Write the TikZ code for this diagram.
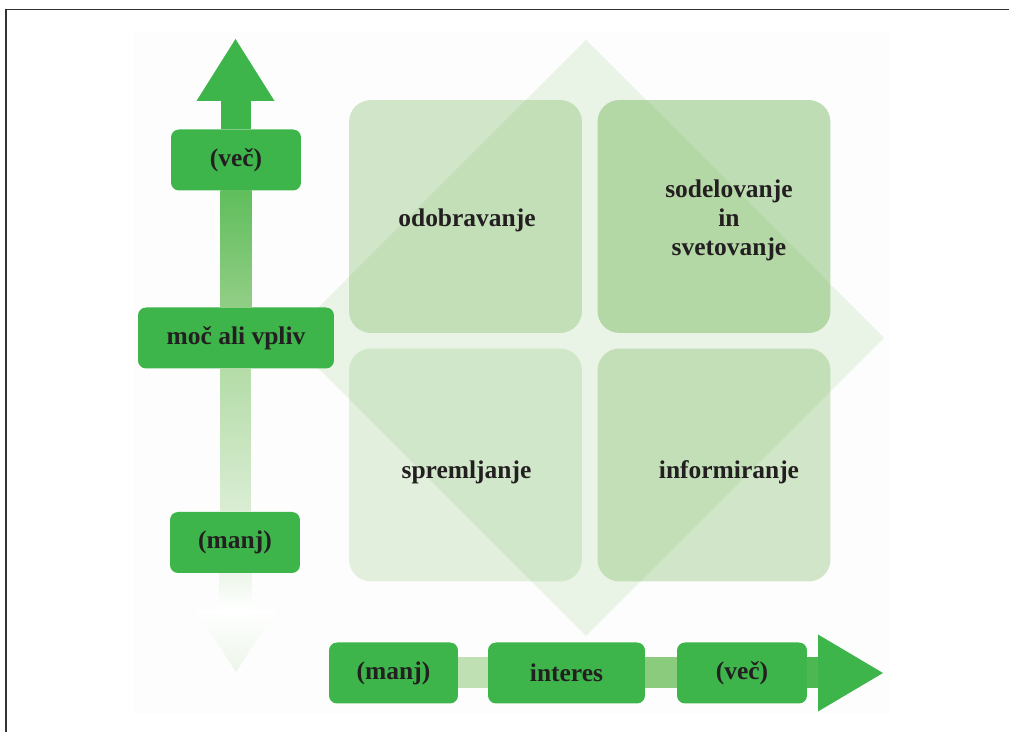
\documentclass[tikz,border=0pt]{standalone}
\usepackage{fontspec}
\usepackage{tikz}
\usetikzlibrary{calc,positioning}
\newfontfamily\boxfont{Liberation Serif}
\definecolor{axisgreen}{RGB}{61,181,74}
\definecolor{quadgreen}{RGB}{95,172,65}
\definecolor{textdark}{RGB}{35,31,32}
\definecolor{shaftA}{RGB}{96,190,92}
\definecolor{shaftB}{RGB}{146,206,134}
\definecolor{shaftC}{RGB}{180,220,168}
\definecolor{shaftD}{RGB}{218,237,212}
\definecolor{linkA}{RGB}{191,224,178}
\definecolor{linkB}{RGB}{139,203,125}
\definecolor{linkC}{RGB}{77,184,82}

\begin{document}
\begin{tikzpicture}[x=0.02cm, y=-0.02cm]
\tikzset{axisbox/.style={rectangle,rounded corners=0.16cm,fill=axisgreen,text=textdark,
  font=\boxfont\fontsize{14.5}{16.5}\selectfont\bfseries,minimum height=1.22cm,inner sep=0pt},
quad/.style={rectangle,rounded corners=0.44cm,fill=quadgreen,minimum width=4.66cm,minimum height=4.66cm},
quadtext/.style={text=textdark,font=\boxfont\fontsize{14.5}{16.5}\selectfont\bfseries,align=center}}

\useasboundingbox (0,0) rectangle (1009,732);
\fill[black!0.6] (133,32) rectangle (890,714);
\draw[line width=0.03cm, black!80] (6,732) -- (6,9.5) -- (1009,9.5);

%% Diamond and quadrants
\coordinate (dn) at (586,40);
\coordinate (de) at (884,338);
\coordinate (ds) at (586,636);
\coordinate (dw) at (288,338);
\fill[quadgreen,opacity=0.12] (dn) -- (de) -- (ds) -- (dw) -- cycle;

\node (qtl) [quad,fill opacity=0.28] at (465.5,216.5) {};
\node (qtr) [quad,fill opacity=0.39] at (714,216.5) {};
\node (qbl) [quad,fill opacity=0.17] at (465.5,465) {};
\node (qbr) [quad,fill opacity=0.28] at (714,465) {};

\node [quadtext] at ($(qtl)+(1.5,3.5)$) {odobravanje};
\node [quadtext] at ($(qtr)+(15,3.5)$) {sodelovanje\\in\\svetovanje};
\node [quadtext] at ($(qbl)+(1,7)$) {spremljanje};
\node [quadtext] at ($(qbr)+(15,7)$) {informiranje};

%% Axis boxes
\node (vvec) [axisbox,minimum width=2.6cm] at (236,160) {(več)};
\node (vmoc) [axisbox,minimum width=3.92cm] at (236,338) {moč ali vpliv};
\node (vmanj) [axisbox,minimum width=2.6cm] at (235,542.5) {(manj)};
\node (hmanj) [axisbox,minimum width=2.58cm] at (393.5,673) {(manj)};
\node (hint) [axisbox,minimum width=3.14cm] at (566.5,673) {interes};
\node (hvec) [axisbox,minimum width=2.6cm] at (742,673) {(več)};

\coordinate (vtip) at (235.5,39);
\coordinate (vend) at (236,672);
\coordinate (htip) at (883,673);

%% Vertical axis
\fill[axisgreen] ($(vvec.north)+(-15.5,0)$) rectangle ($(vtip)+(15.5,62)$);
\fill[axisgreen] ($(vtip)+(-39,62)$) -- (vtip) -- ($(vtip)+(39,62)$) -- cycle;
\shade[top color=shaftA,bottom color=shaftB] ($(vvec.south)+(-15.5,0)$) rectangle ($(vmoc.north)+(15.5,0)$);
\shade[top color=shaftC,bottom color=shaftD] ($(vmoc.south)+(-15.5,0)$) rectangle ($(vmanj.north)+(15.5,0)$);
\shade[top color=shaftD!50,bottom color=white] ($(vmanj.south)+(-15.5,0)$) rectangle ($(vend)+(15.5,-62)$);
\shade[top color=white,bottom color=shaftD!50] ($(vend)+(-40,-62)$) -- (vend) -- ($(vend)+(40,-62)$) -- cycle;

%% Horizontal axis
\fill[linkA] ($(hmanj.east)+(0,-15.5)$) rectangle ($(hint.west)+(0,15.5)$);
\fill[linkB] ($(hint.east)+(0,-15.5)$) rectangle ($(hvec.west)+(0,15.5)$);
\fill[linkC] ($(hvec.east)+(0,-15.5)$) rectangle ($(htip)+(-65,15.5)$);
\fill[axisgreen] ($(htip)+(-65,-38.5)$) -- (htip) -- ($(htip)+(-65,38.5)$) -- cycle;

\end{tikzpicture}
\end{document}
